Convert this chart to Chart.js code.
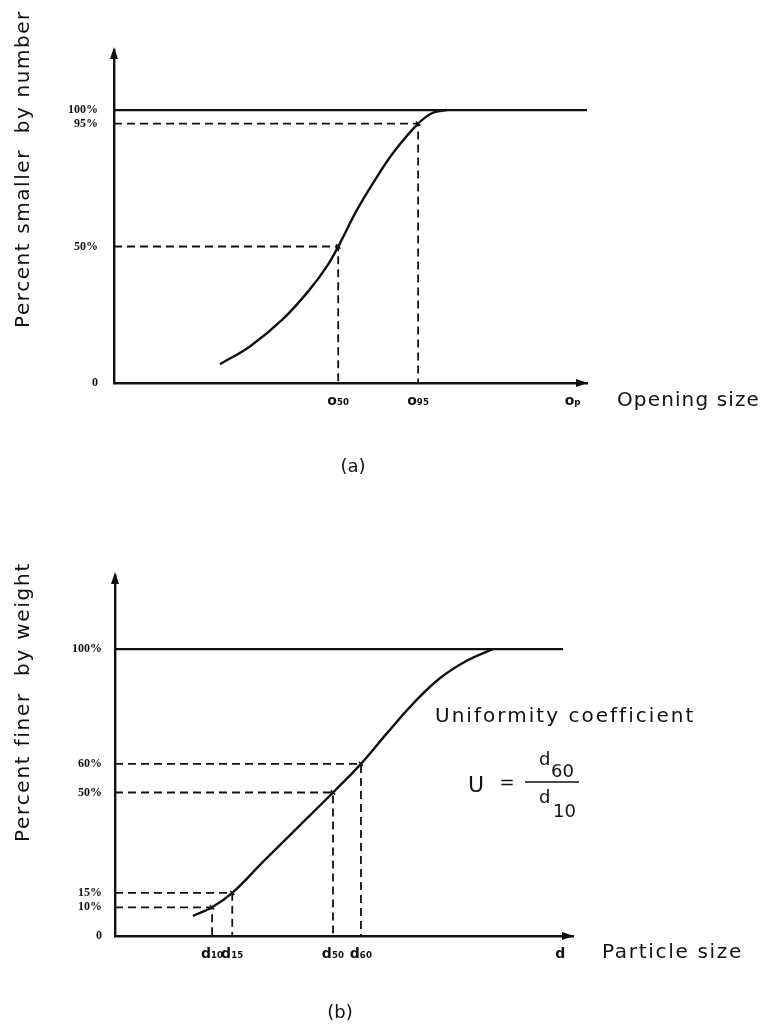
<!DOCTYPE html>
<html><head><meta charset="utf-8">
<script src="https://cdn.jsdelivr.net/npm/chart.js@4.4.1/dist/chart.umd.min.js"></script>
<style>
html,body{margin:0;padding:0;background:#fff;}
#wrap{position:relative;width:763px;height:1027px;overflow:hidden;background:#fff;}
canvas{position:absolute;left:0;}
</style></head><body>
<div id="wrap">
<canvas id="chartA" width="763" height="480" style="top:0px"></canvas>
<canvas id="chartB" width="763" height="547" style="top:480px"></canvas>
</div>
<script>
// ---------- Chart (a): percent smaller by number vs opening size ----------
const curveA_x = [22.4, 28.8, 35.7, 41.4, 45.0, 47.4, 51.4, 55.6, 59.0, 64.3, 67.4, 70.4];
const curveA_y = [6.9, 13.5, 23.4, 34.3, 42.7, 50, 63.5, 75.5, 84.3, 95, 99.0, 100];
const marksA_x = [47.4, 64.3];
const marksA_y = [50, 95];
const topLineA_x = [0, 100];
const yTicksA = [0, 50, 95, 100];
const yLabelsA = ['0', '50%', '95%', '100%'];
const xTicksA = [47.4, 64.3, 97.0];
const xLabelsA = ['o\u2085\u2080', 'o\u2089\u2085', 'o\u209A'];

// ---------- Chart (b): percent finer by weight vs particle size ----------
const curveB_x = [17.0, 21.2, 25.6, 32.3, 39.7, 47.6, 53.7, 59.4, 65.1, 71.0, 76.9, 82.5];
const curveB_y = [7.0, 10, 15, 25.8, 37.5, 50, 60, 70.7, 81.0, 89.9, 96.0, 100];
const marksB_x = [21.2, 25.6, 47.6, 53.7];
const marksB_y = [10, 15, 50, 60];
const topLineB_x = [0, 97.8];
const yTicksB = [0, 10, 15, 50, 60, 100];
const yLabelsB = ['0', '10%', '15%', '50%', '60%', '100%'];
const xTicksB = [21.2, 25.6, 47.6, 53.7, 97.2];
const xLabelsB = ['d\u2081\u2080', 'd\u2081\u2085', 'd\u2085\u2080', 'd\u2086\u2080', 'd'];

const INK = '#111';
const FONT = '"DejaVu Sans", "Open Sans", sans-serif';

function fitText(ctx, text, x, y, size, target, align) {
  ctx.save();
  ctx.font = size + 'px ' + FONT;
  ctx.fillStyle = INK;
  ctx.textBaseline = 'alphabetic';
  ctx.letterSpacing = '0px';
  const w = ctx.measureText(text).width;
  let ls = (target - w) / text.length;
  if (ls < -1) ls = -1;
  ctx.letterSpacing = ls.toFixed(2) + 'px';
  ctx.textAlign = align || 'left';
  ctx.fillText(text, x, y);
  ctx.restore();
}
function plainText(ctx, text, x, y, size, align, baseline) {
  ctx.save();
  ctx.font = size + 'px ' + FONT;
  ctx.fillStyle = INK;
  ctx.textAlign = align || 'left';
  ctx.textBaseline = baseline || 'alphabetic';
  ctx.fillText(text, x, y);
  ctx.restore();
}
function rotText(ctx, text, x, y, size, target) {
  ctx.save();
  ctx.translate(x, y);
  ctx.rotate(-Math.PI / 2);
  fitText(ctx, text, 0, 0, size, target, 'left');
  ctx.restore();
}
function arrows(chart) {
  const {ctx, chartArea: {left, right, top, bottom}} = chart;
  ctx.save();
  ctx.fillStyle = INK;
  ctx.beginPath();
  ctx.moveTo(left, top - 3); ctx.lineTo(left - 4, top + 9); ctx.lineTo(left + 4, top + 9);
  ctx.closePath(); ctx.fill();
  ctx.beginPath();
  ctx.moveTo(right + 1, bottom); ctx.lineTo(right - 11, bottom - 4); ctx.lineTo(right - 11, bottom + 4);
  ctx.closePath(); ctx.fill();
  ctx.restore();
}

function buildDatasets(cx, cy, mx, my, topX) {
  const ds = [];
  ds.push({data: cx.map((x, i) => ({x: x, y: cy[i]})), borderColor: INK, borderWidth: 2.4,
           tension: 0.4, pointRadius: 0, fill: false});
  ds.push({data: topX.map(x => ({x: x, y: 100})), borderColor: INK, borderWidth: 2.2, pointRadius: 0});
  mx.forEach((x, i) => {
    ds.push({data: [{x: 0, y: my[i]}, {x: x, y: my[i]}, {x: x, y: 0}], borderColor: INK,
             borderWidth: 1.8, borderDash: [8, 5], pointRadius: 0, tension: 0});
  });
  ds.push({data: mx.map((x, i) => ({x: x, y: my[i]})), showLine: false, pointStyle: 'crossRot',
           pointRadius: 3, borderColor: INK, borderWidth: 1.5});
  return ds;
}

function makeChart(id, cfg) {
  return new Chart(document.getElementById(id), {
    type: 'line',
    data: {datasets: buildDatasets(cfg.cx, cfg.cy, cfg.mx, cfg.my, cfg.topX)},
    options: {
      responsive: false, animation: false, devicePixelRatio: 1,
      layout: {padding: {top: cfg.padTop, right: cfg.padRight, left: 0, bottom: 0}},
      plugins: {legend: {display: false}, tooltip: {enabled: false}},
      scales: {
        x: {
          type: 'linear', min: 0, max: 100,
          grid: {display: false, drawTicks: false},
          border: {display: true, color: INK, width: 2.4},
          afterBuildTicks: s => { s.ticks = cfg.xTicks.map(v => ({value: v})); },
          afterFit: s => { s.height = cfg.xH; },
          ticks: {autoSkip: false, maxRotation: 0, padding: cfg.xPad, color: INK,
                  font: {family: FONT, size: 14, weight: 'bold'},
                  callback: (v, i) => cfg.xLabels[i]}
        },
        y: {
          type: 'linear', min: 0, max: cfg.yMax,
          grid: {display: false, drawTicks: false},
          border: {display: true, color: INK, width: 2.4},
          afterBuildTicks: s => { s.ticks = cfg.yTicks.map(v => ({value: v})); },
          afterFit: s => { s.width = cfg.yW; },
          ticks: {autoSkip: false, padding: cfg.yPad, color: INK,
                  font: {family: '"Liberation Serif", serif', size: 12, weight: 'bold'},
                  callback: (v, i) => cfg.yLabels[i]}
        }
      }
    },
    plugins: [{id: 'decor' + id, afterDraw: chart => { arrows(chart); cfg.texts(chart.ctx); }}]
  });
}

makeChart('chartA', {
  cx: curveA_x, cy: curveA_y, mx: marksA_x, my: marksA_y, topX: topLineA_x,
  xTicks: xTicksA, xLabels: xLabelsA, yTicks: yTicksA, yLabels: yLabelsA,
  yMax: 122, padTop: 50, padRight: 176, xH: 97, yW: 114, xPad: 10, yPad: 16,
  texts: ctx => {
    rotText(ctx, 'Percent smaller  by number', 29, 328, 20, 318);
    fitText(ctx, 'Opening size', 617, 406, 20, 143);
    plainText(ctx, '(a)', 353, 472, 18, 'center');
  }
});

makeChart('chartB', {
  cx: curveB_x, cy: curveB_y, mx: marksB_x, my: marksB_y, topX: topLineB_x,
  xTicks: xTicksB, xLabels: xLabelsB, yTicks: yTicksB, yLabels: yLabelsB,
  yMax: 125.8, padTop: 95, padRight: 190, xH: 91, yW: 115, xPad: 10, yPad: 13,
  texts: ctx => {
    rotText(ctx, 'Percent finer  by weight', 29, 362, 20, 280);
    fitText(ctx, 'Uniformity coefficient', 435, 242, 20, 260);
    plainText(ctx, 'U', 468, 312, 22);
    plainText(ctx, '=', 507, 303, 18, 'center', 'middle');
    ctx.save(); ctx.strokeStyle = INK; ctx.lineWidth = 1.5;
    ctx.beginPath(); ctx.moveTo(525, 302); ctx.lineTo(579, 302); ctx.stroke(); ctx.restore();
    plainText(ctx, 'd', 539, 285, 18);
    plainText(ctx, '60', 551, 297, 18);
    plainText(ctx, 'd', 539, 323, 18);
    plainText(ctx, '10', 553, 337, 18);
    fitText(ctx, 'Particle size', 602, 478, 20, 141);
    plainText(ctx, '(b)', 340, 538, 18, 'center');
  }
});
</script>
</body></html>
